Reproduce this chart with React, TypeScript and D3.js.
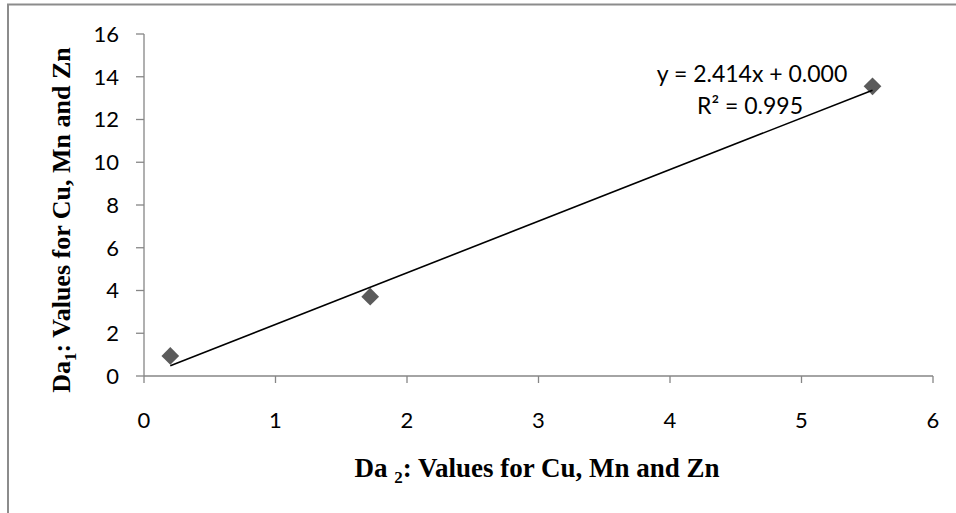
import React from "react";
import * as d3 from "d3";

const xValues = [0.2, 1.72, 5.54];
const yValues = [0.94, 3.71, 13.55];
const xTicks = [0, 1, 2, 3, 4, 5, 6];
const yTicks = [0, 2, 4, 6, 8, 10, 12, 14, 16];
const slope = 2.414;
const intercept = 0.0;
const eqLine = "y = 2.414x + 0.000";
const r2Line = "R² = 0.995";

const W = 956;
const H = 513;

export default function App() {
  const x = d3.scaleLinear().domain([0, 6]).range([144, 933]);
  const y = d3.scaleLinear().domain([0, 16]).range([376, 34]);
  const axisColor = "#868686";
  const tickFont = "Lato, 'Open Sans', sans-serif";
  const labelFont = "'Liberation Serif', 'Times New Roman', serif";
  const xMin = d3.min(xValues) as number;
  const xMax = d3.max(xValues) as number;
  const diamond = d3.symbol().type(d3.symbolDiamond2).size(200)() as string;
  const line = d3.line<number>().x((d) => x(d)).y((d) => y(slope * d + intercept));

  return (
    <svg width={W} height={H} style={{ position: "absolute", left: 0, top: 0 }}>
      <rect x={0} y={0} width={W} height={H} fill="#fff" />
      <rect x={8} y={4.5} width={W + 20} height={H + 20} fill="none" stroke="#8c8c8c" strokeWidth={2} />
      {/* y axis */}
      <line x1={x(0)} x2={x(0)} y1={y(16)} y2={y(0)} stroke={axisColor} strokeWidth={1.3} />
      {yTicks.map((t) => (
        <g key={"y" + t}>
          <line x1={x(0) - 8} x2={x(0)} y1={y(t)} y2={y(t)} stroke={axisColor} strokeWidth={1.3} />
          <text x={x(0) - 25} y={y(t)} dy="0.36em" textAnchor="end" fontFamily={tickFont} fontSize={22} fill="#000">
            {t}
          </text>
        </g>
      ))}
      {/* x axis */}
      <line x1={x(0)} x2={x(6)} y1={y(0)} y2={y(0)} stroke={axisColor} strokeWidth={1.3} />
      {xTicks.map((t) => (
        <g key={"x" + t}>
          <line x1={x(t)} x2={x(t)} y1={y(0)} y2={y(0) + 7} stroke={axisColor} strokeWidth={1.3} />
          <text x={x(t)} y={y(0) + 52} textAnchor="middle" fontFamily={tickFont} fontSize={22} fill="#000">
            {t}
          </text>
        </g>
      ))}
      {/* markers */}
      {xValues.map((v, i) => (
        <path key={"m" + i} d={diamond} transform={`translate(${x(v)},${y(yValues[i])})`} fill="#5b5b5b" />
      ))}
      {/* trendline */}
      <path d={line([xMin, xMax]) as string} fill="none" stroke="#000" strokeWidth={1.6} />
      {/* equation */}
      <text x={752} y={82} textAnchor="middle" fontFamily={tickFont} fontSize={23} fill="#000">
        {eqLine}
      </text>
      <text x={750} y={114} textAnchor="middle" fontFamily={tickFont} fontSize={23} fill="#000">
        {r2Line}
      </text>
      {/* axis titles */}
      <text x={537} y={477} textAnchor="middle" fontFamily={labelFont} fontWeight="bold" fontSize={27} fill="#000">
        Da <tspan fontSize={17} dy={6}>2</tspan>
        <tspan dy={-6}>: Values for Cu, Mn and Zn</tspan>
      </text>
      <text
        transform="translate(70,220) rotate(-90)"
        textAnchor="middle"
        fontFamily={labelFont}
        fontWeight="bold"
        fontSize={26}
        fill="#000"
      >
        Da<tspan fontSize={17} dy={6}>1</tspan>
        <tspan dy={-6}>: Values for Cu, Mn and Zn</tspan>
      </text>
    </svg>
  );
}
